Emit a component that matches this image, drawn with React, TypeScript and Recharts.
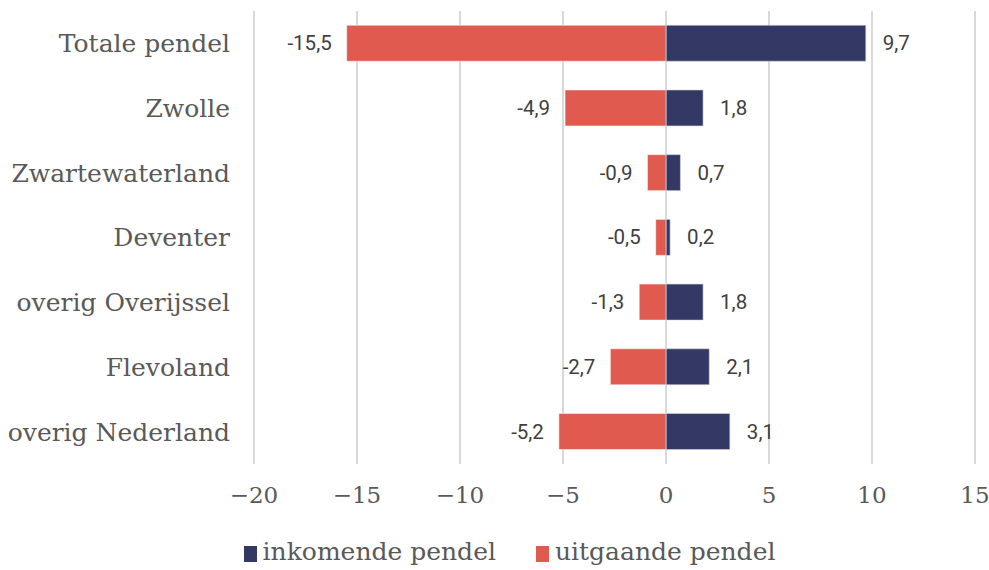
import { Bar, BarChart, CartesianGrid, LabelList, Legend, XAxis, YAxis } from "recharts";

const regions = [
  "Totale pendel",
  "Zwolle",
  "Zwartewaterland",
  "Deventer",
  "overig Overijssel",
  "Flevoland",
  "overig Nederland",
];
const inkomend = [9.7, 1.8, 0.7, 0.2, 1.8, 2.1, 3.1];
const uitgaand = [-15.5, -4.9, -0.9, -0.5, -1.3, -2.7, -5.2];
const xTicks = [-20, -15, -10, -5, 0, 5, 10, 15];

const NAVY = "#343864";
const RED = "#E05A50";
const SERIF = "'DejaVu Serif', serif";
const TEXT = "#595959";

const data = regions.map((name, i) => ({
  name,
  inkomend: inkomend[i],
  uitgaand: uitgaand[i],
}));

const fmtNum = (v: number) => String(v).replace(".", ",");
const fmtTick = (v: number) => (v < 0 ? `\u2212${Math.abs(v)}` : `${v}`);

// label outside the bar end, left for negatives and right for positives
const BarLabel = (props: any) => {
  const { x, y, width, height, value } = props;
  const left = Math.min(x, x + width);
  const right = Math.max(x, x + width);
  const neg = value < 0;
  return (
    <text
      x={neg ? left - 15 : right + 17}
      y={y + height / 2}
      textAnchor={neg ? "end" : "start"}
      dominantBaseline="central"
      fontSize={20.5}
      fontFamily="Roboto"
      fill="#404040"
    >
      {fmtNum(value)}
    </text>
  );
};

const LegendContent = (props: any) => {
  const items = props.payload || [];
  return (
    <div
      style={{
        display: "flex",
        justifyContent: "center",
        gap: 40,
        fontFamily: SERIF,
        fontSize: 25,
        color: TEXT,
        paddingLeft: 30,
      }}
    >
      {items.map((it: any) => (
        <div key={it.value} style={{ display: "flex", alignItems: "center" }}>
          <span
            style={{
              display: "inline-block",
              width: 13,
              height: 16,
              background: it.color,
              marginRight: 6,
              marginTop: 4,
            }}
          />
          <span>{it.value}</span>
        </div>
      ))}
    </div>
  );
};

export default function App() {
  return (
    <div style={{ position: "absolute", left: 0, top: 0, background: "#fff" }}>
      <BarChart
        width={989}
        height={570}
        data={data}
        layout="vertical"
        stackOffset="sign"
        barCategoryGap="22%"
        margin={{ top: 11, right: 14, bottom: 0, left: 0 }}
      >
        <CartesianGrid horizontal={false} stroke="#d9d9d9" strokeWidth={2} />
        <XAxis
          type="number"
          domain={[-20, 15]}
          ticks={xTicks}
          tickFormatter={fmtTick}
          axisLine={false}
          tickLine={false}
          tickMargin={17}
          height={77}
          tick={{ fontSize: 23, fill: TEXT, fontFamily: SERIF }}
        />
        <YAxis
          type="category"
          dataKey="name"
          width={254}
          axisLine={false}
          tickLine={false}
          tickMargin={18}
          tick={{ fontSize: 25, fill: TEXT, fontFamily: SERIF }}
        />
        <Legend
          verticalAlign="bottom"
          content={LegendContent}
          wrapperStyle={{ left: 0, width: 989, bottom: 4 }}
        />
        <Bar
          dataKey="inkomend"
          name="inkomende pendel"
          stackId="a"
          fill={NAVY}
          stroke="#d8d8d8"
          strokeOpacity={0.6}
          isAnimationActive={false}
        >
          <LabelList dataKey="inkomend" content={BarLabel} />
        </Bar>
        <Bar
          dataKey="uitgaand"
          name="uitgaande pendel"
          stackId="a"
          fill={RED}
          stroke="#ffffff"
          strokeOpacity={0.5}
          isAnimationActive={false}
        >
          <LabelList dataKey="uitgaand" content={BarLabel} />
        </Bar>
      </BarChart>
    </div>
  );
}
